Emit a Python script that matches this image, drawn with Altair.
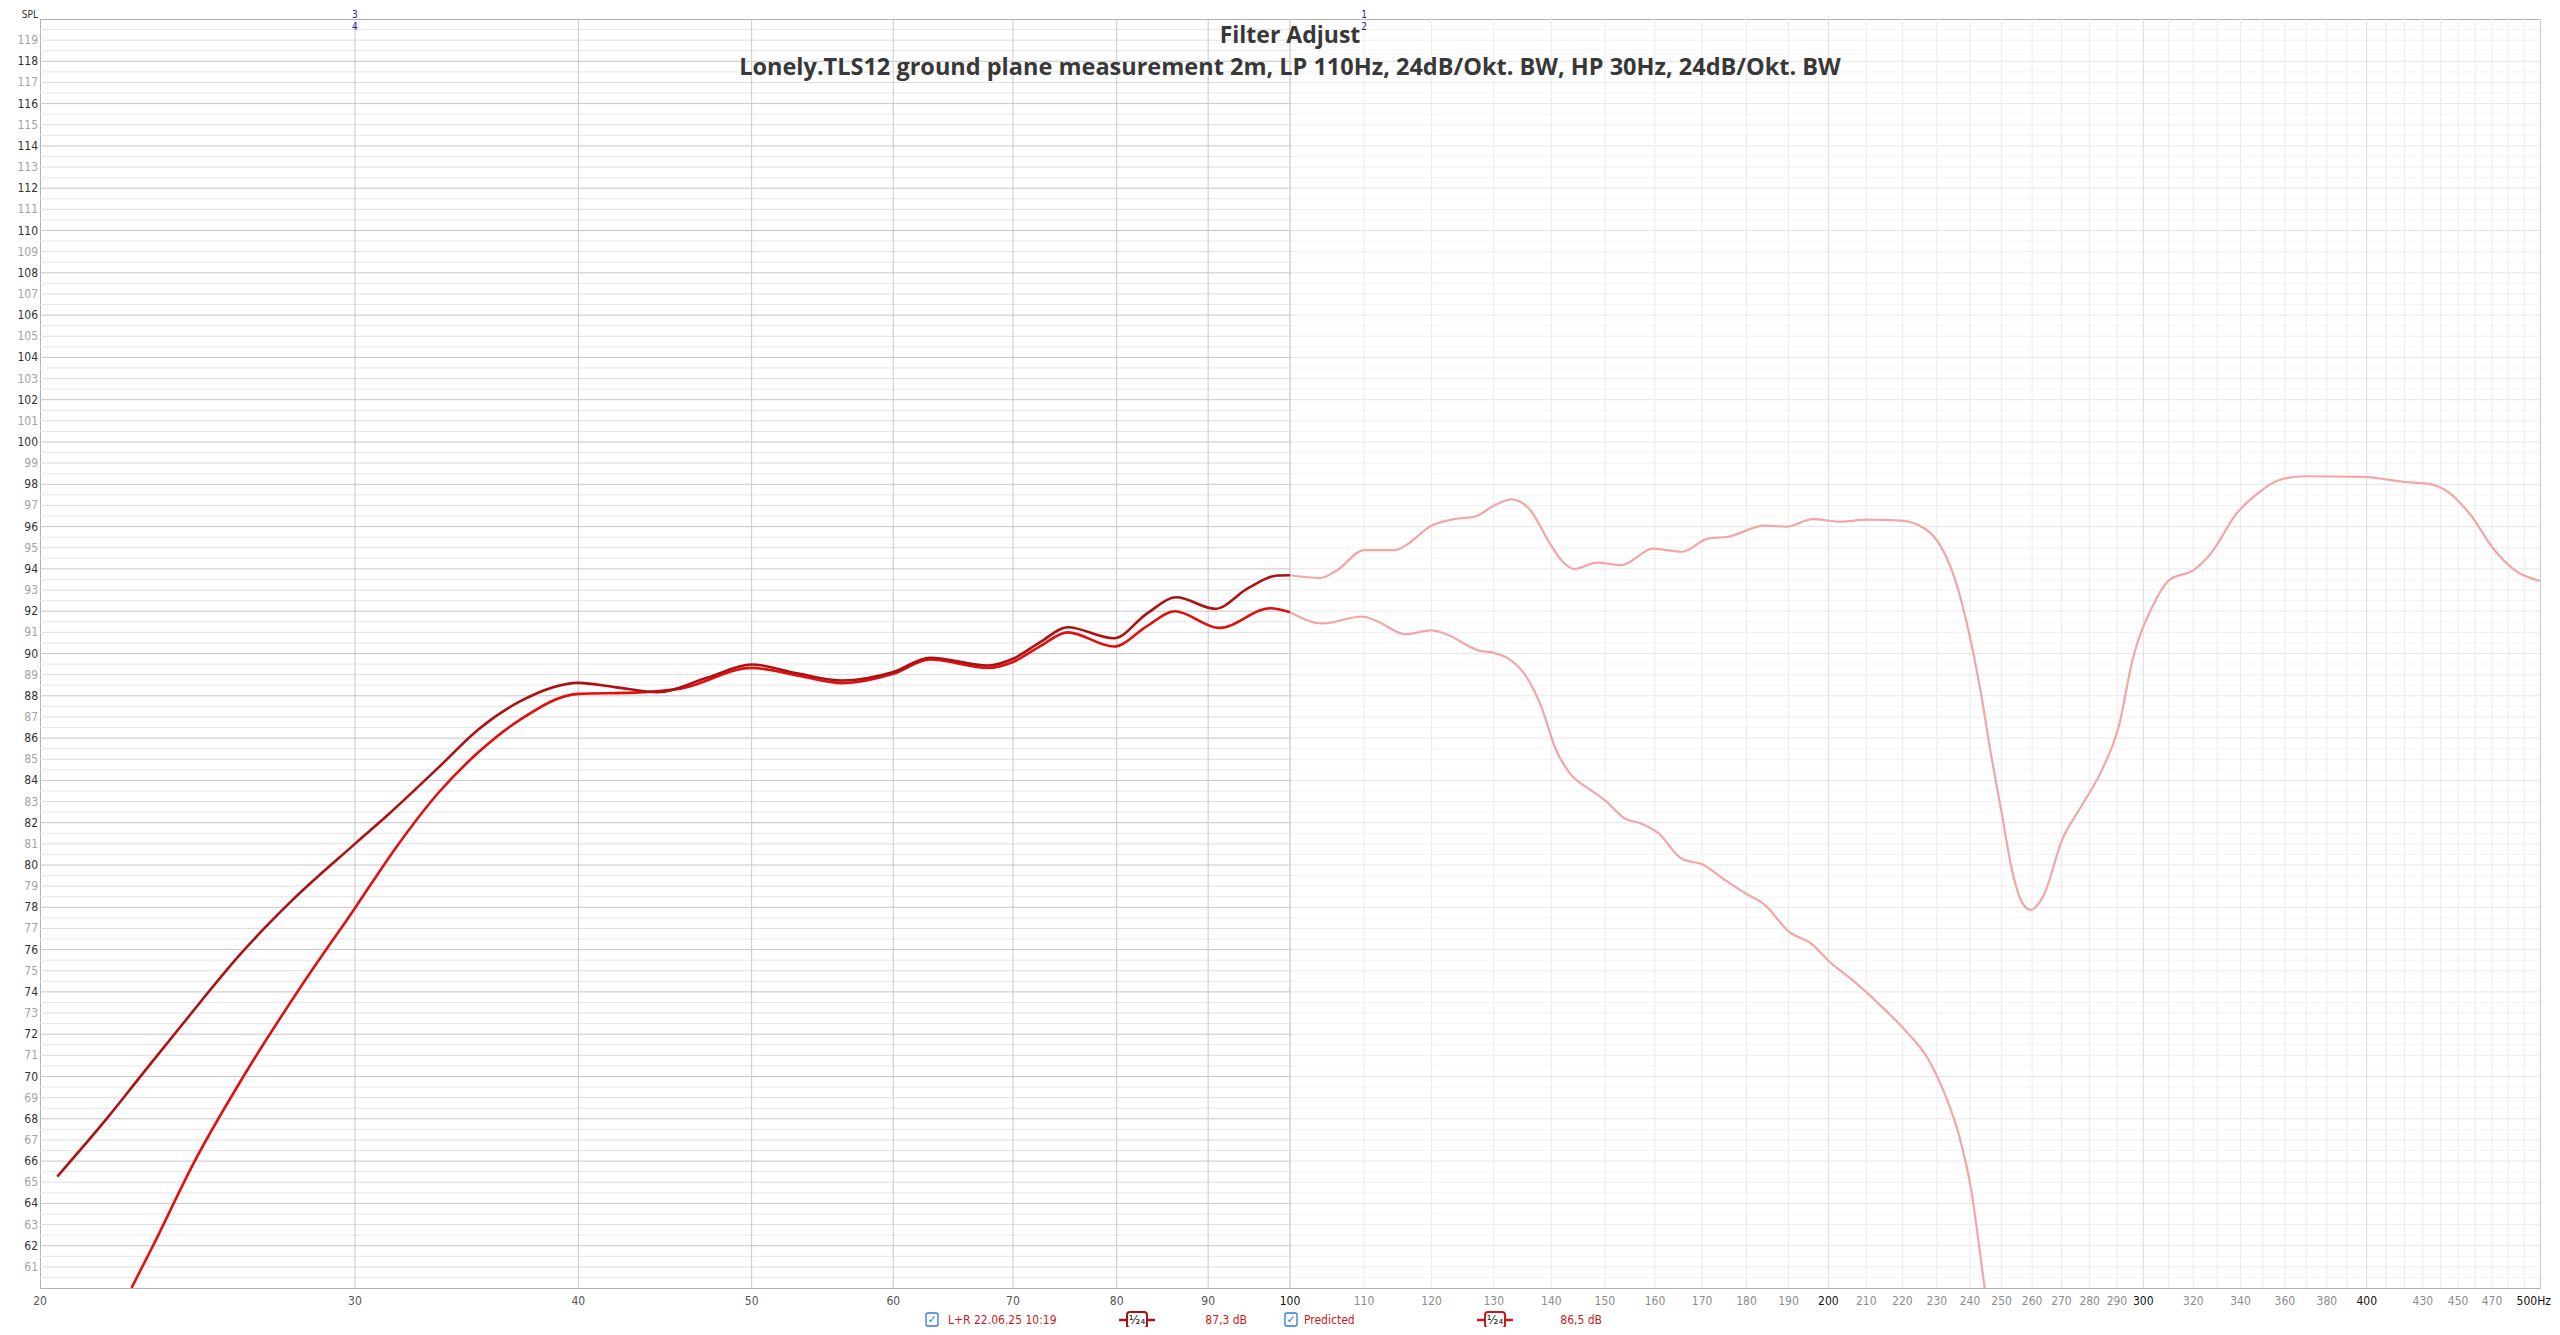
import altair as alt
import pandas as pd

# --- data read off the REW "Filter Adjust" screenshot ---
# L+R measurement (dark red below 100 Hz, faded above)
meas_freq = [20.45, 21.84, 22.78, 24.12, 25.96, 27.64, 30.0, 31.34, 33.38, 35.18, 37.08, 40.0,
             42.0, 44.3, 47.2, 50.0, 53.1, 56.2, 60.0, 62.9, 67.8, 70.0, 72.5, 75.1, 79.7,
             83.2, 86.4, 90.8, 94.8, 98.4, 100.0, 104.0, 106.3, 110.0, 114.6, 116.0, 120.0,
             123.5, 127.0, 130.0, 133.0, 136.0, 140.0, 142.1, 144.2, 148.5, 153.2, 159.6,
             165.7, 171.1, 175.8, 184.2, 189.5, 196.0, 203.5, 210.0, 219.5, 226.5, 231.0,
             235.5, 239.5, 243.4, 246.7, 250.0, 253.3, 256.7, 259.5, 263.8, 270.3, 277.0,
             284.5, 290.7, 295.9, 303.6, 310.2, 320.2, 327.3, 338.3, 347.5, 357.1, 369.2,
             398.2, 420.3, 432.5, 442.8, 456.6, 471.5, 482.5, 500.0]
meas_spl = [65.27, 68.1, 70.04, 72.65, 75.9, 78.29, 81.0, 82.41, 84.58, 86.42, 87.72, 88.61,
            88.4, 88.17, 88.85, 89.48, 89.05, 88.72, 89.12, 89.8, 89.43, 89.75, 90.54, 91.24, 90.72,
            91.9, 92.66, 92.11, 93.1, 93.69, 93.7, 93.57, 93.95, 94.89, 94.89, 95.1, 96.05,
            96.35, 96.48, 96.99, 97.29, 96.86, 95.09, 94.33, 94.0, 94.3, 94.18, 94.96,
            94.81, 95.42, 95.52, 96.05, 96.0, 96.35, 96.23, 96.33, 96.28, 95.9, 95.1,
            93.47, 91.12, 88.13, 85.14, 82.47, 79.8, 78.22, 77.88, 78.54, 81.21, 82.78,
            84.51, 86.56, 89.7, 92.22, 93.47, 93.95, 94.73, 96.62, 97.56, 98.19, 98.38,
            98.35, 98.11, 98.03, 97.72, 96.62, 94.89, 94.03, 93.43]

# Predicted response with LP 110 Hz / HP 30 Hz
pred_freq = [22.5, 23.14, 24.38, 26.1, 27.94, 30.0, 31.67, 33.38, 35.18, 37.08, 40.0, 43.0,
             45.7, 50.0, 53.1, 56.2, 60.0, 62.9, 67.8, 70.0, 72.5, 75.1, 79.7, 83.2, 86.2,
             91.3, 97.5, 100.0, 104.3, 109.7, 111.8, 116.0, 120.0, 122.3, 127.4, 130.0,
             132.7, 135.6, 138.2, 140.8, 143.4, 147.1, 150.0, 153.7, 157.6, 160.5, 165.7,
             170.0, 175.2, 180.0, 184.2, 190.0, 196.0, 200.0, 206.2, 212.6, 220.8, 227.6,
             232.1, 236.6, 240.3, 244.6, 246.5]
pred_spl = [60.0, 62.02, 65.92, 70.26, 74.16, 77.96, 80.89, 83.38, 85.34, 86.85, 88.09, 88.15,
            88.35, 89.32, 88.95, 88.6, 89.04, 89.72, 89.32, 89.6, 90.35, 91.0, 90.33, 91.3, 92.0,
            91.21, 92.14, 91.95, 91.42, 91.75, 91.54, 90.91, 91.09, 90.91, 90.15, 90.03,
            89.72, 88.89, 87.49, 85.47, 84.33, 83.57, 83.06, 82.23, 81.92, 81.54, 80.28,
            80.03, 79.27, 78.63, 78.13, 76.86, 76.23, 75.47, 74.58, 73.57, 72.18, 70.78,
            69.27, 67.24, 64.71, 60.0, 58.0]

x_ticks = [20, 30, 40, 50, 60, 70, 80, 90, 100, 110, 120, 130, 140, 150, 160, 170, 180, 190,
           200, 210, 220, 230, 240, 250, 260, 270, 280, 290, 300, 320, 340, 360, 380, 400,
           430, 450, 470, 500]
y_ticks = list(range(61, 120))
vgrid_in = [30, 40, 50, 60, 70, 80, 90]
vgrid_out = list(range(110, 501, 10))

marker_freq = [110, 30]
marker_top = ["1", "3"]
marker_low = ["2", "4"]

title_text = "Filter Adjust"
subtitle_text = "Lonely.TLS12 ground plane measurement 2m, LP 110Hz, 24dB/Okt. BW, HP 30Hz, 24dB/Okt. BW"
legend_names = ["L+R 22.06.25 10:19", "Predicted"]
legend_levels = ["87,3 dB", "86,5 dB"]

NARROW = "Liberation Sans Narrow, DejaVu Sans Condensed, Liberation Sans, sans-serif"
W, H = 2500, 1269

# --- frames ---
meas = pd.DataFrame({"freq": meas_freq, "spl": meas_spl, "series": legend_names[0]})
pred = pd.DataFrame({"freq": pred_freq, "spl": pred_spl, "series": legend_names[1]})

rows = []
for region, lo, hi in [("in", 20, 100), ("out", 100, 500)]:
    for i in range(1, 120):
        v = 60 + i * 0.5
        kind = "half" if i % 2 else ("even" if int(v) % 2 == 0 else "odd")
        rows.append({"f0": lo, "f1": hi, "s0": v, "s1": v, "style": region + "_" + kind})
for f in vgrid_in:
    rows.append({"f0": f, "f1": f, "s0": 60, "s1": 120, "style": "v_in"})
for f in vgrid_out:
    st = "v_major" if f in (200, 300, 400) else "v_out"
    rows.append({"f0": f, "f1": f, "s0": 60, "s1": 120, "style": st})
rows.append({"f0": 100, "f1": 100, "s0": 60, "s1": 120, "style": "v_100"})
grid = pd.DataFrame(rows)

styles = ["in_even", "in_odd", "in_half", "out_even", "out_odd", "out_half",
          "v_in", "v_out", "v_major", "v_100"]
style_colors = ["#c6c6c6", "#dedede", "#e6e6e6", "#e6e6e6", "#efefef", "#f4f4f4",
                "#cacaca", "#ececec", "#dcdcdc", "#bdbdbd"]

xs = alt.Scale(type="log", domain=[20, 500], nice=False)
ys = alt.Scale(domain=[60, 120], nice=False, zero=False)
X = lambda f: alt.X(f, scale=xs, axis=None)
Y = lambda f: alt.Y(f, scale=ys, axis=None)

grid_layer = alt.Chart(grid).mark_rule(strokeWidth=1).encode(
    x=X("f0:Q"), x2="f1:Q", y=Y("s0:Q"), y2="s1:Q",
    color=alt.Color("style:N", scale=alt.Scale(domain=styles, range=style_colors), legend=None),
)

# response curves: strong inside 20-100 Hz, faded outside
line_kw = dict(interpolate="monotone", clip=True)
faded = [
    alt.Chart(df[df.freq >= 100]).mark_line(color="#f2a6a6", strokeWidth=2.2, **line_kw).encode(
        x=X("freq:Q"), y=Y("spl:Q"))
    for df in (meas, pred)
]
pred_line = alt.Chart(pred[pred.freq <= 100]).mark_line(
    color="#e01010", strokeWidth=2.6, **line_kw).encode(x=X("freq:Q"), y=Y("spl:Q"))
meas_line = alt.Chart(meas[meas.freq <= 100]).mark_line(
    color="#ad1212", strokeWidth=2.6, **line_kw).encode(x=X("freq:Q"), y=Y("spl:Q"))

# tick labels, drawn through the same scales
xlab = pd.DataFrame({"freq": x_ticks,
                     "label": [f"{t}Hz" if t == 500 else str(t) for t in x_ticks]})
xlab["tone"] = ["#111111" if (t >= 100 and t % 100 == 0) else ("#555555" if t < 100 else "#8c8c8c")
                for t in x_ticks]
inner = xlab[xlab.freq < 500]
x_labels = [
    alt.Chart(inner[inner.tone == c]).mark_text(font=NARROW, fontSize=12, color=c).encode(
        x=X("freq:Q"), y=alt.value(H + 13), text="label:N")
    for c in ("#111111", "#555555", "#8c8c8c")
]
# last label sits flush against the right edge
x_labels.append(
    alt.Chart(xlab[xlab.freq == 500]).mark_text(
        font=NARROW, fontSize=12, color="#111111", align="right", dx=11).encode(
        x=X("freq:Q"), y=alt.value(H + 13), text="label:N"))

ylab = pd.DataFrame({"spl": y_ticks, "label": [str(v) for v in y_ticks]})
y_labels = [
    alt.Chart(ylab[ylab.spl % 2 == r]).mark_text(
        font=NARROW, fontSize=12, color=c, align="right").encode(
        x=alt.value(-2), y=Y("spl:Q"), text="label:N")
    for r, c in ((0, "#333333"), (1, "#a3a3a3"))
]

heads = pd.DataFrame({"t": [title_text], "s": [subtitle_text], "u": ["SPL"]})
spl_mark = alt.Chart(heads).mark_text(
    font=NARROW, fontSize=10, color="#333333", align="right", baseline="alphabetic"
).encode(x=alt.value(-2), y=alt.value(-1.5), text="u:N")

markers = pd.DataFrame({"freq": marker_freq, "top": marker_top, "low": marker_low})
mk_top = alt.Chart(markers).mark_text(
    fontSize=10, color="#1c1ca8", font=NARROW, baseline="alphabetic").encode(
    x=X("freq:Q"), y=alt.value(-1.5), text="top:N")
mk_low = alt.Chart(markers).mark_text(
    fontSize=10, color="#1c1ca8", font=NARROW, baseline="alphabetic").encode(
    x=X("freq:Q"), y=alt.value(10.5), text="low:N")

title_mark = alt.Chart(heads).mark_text(
    font="Open Sans", fontSize=23, fontWeight="bold", color="#383838", baseline="alphabetic"
).encode(x=alt.value(W / 2), y=alt.value(23.5), text="t:N")
subtitle_mark = alt.Chart(heads).mark_text(
    font="Open Sans", fontSize=23.5, fontWeight="bold", color="#383838", baseline="alphabetic"
).encode(x=alt.value(W / 2), y=alt.value(56), text="s:N")

# --- bottom legend strip ---
LY = 1301
leg = pd.DataFrame({"name": legend_names, "level": legend_levels})
legend_layers = []
for i, (cb, tx, sym, lv, col) in enumerate([(892, 908, 1097, 1207, "#a31515"),
                                            (1251, 1264, 1455, 1562, "#d01818")]):
    row = leg.iloc[[i]]
    legend_layers += [
        alt.Chart(row).mark_rect(fill="white", stroke="#2a7bd6", strokeWidth=1.3, cornerRadius=2).encode(
            x=alt.value(cb - 6), x2=alt.value(cb + 6), y=alt.value(LY - 7), y2=alt.value(LY + 6)),
        alt.Chart(row).mark_text(text="\u2713", font="DejaVu Sans", fontSize=11, color="#2a7bd6").encode(
            x=alt.value(cb), y=alt.value(LY)),
        alt.Chart(row).mark_text(align="left", font=NARROW, fontSize=12, color="#cc1a1a").encode(
            x=alt.value(tx), y=alt.value(LY), text="name:N"),
        alt.Chart(row).mark_rule(color=col, strokeWidth=2.5).encode(
            x=alt.value(sym - 18), x2=alt.value(sym + 18), y=alt.value(LY)),
        alt.Chart(row).mark_rect(fill="white", stroke=col, strokeWidth=2, cornerRadius=3).encode(
            x=alt.value(sym - 10), x2=alt.value(sym + 10), y=alt.value(LY - 8), y2=alt.value(LY + 8)),
        alt.Chart(row).mark_text(text="\u00b9\u2044\u2082\u2084", font="DejaVu Sans", fontSize=12,
                                 color="#222222").encode(x=alt.value(sym), y=alt.value(LY)),
        alt.Chart(row).mark_text(align="right", font=NARROW, fontSize=12, color="#cc1a1a").encode(
            x=alt.value(lv), y=alt.value(LY), text="level:N"),
    ]

chart = alt.layer(
    grid_layer, *faded, pred_line, meas_line, *x_labels, *y_labels, spl_mark,
    mk_top, mk_low, title_mark, subtitle_mark, *legend_layers,
).properties(
    width=W, height=H,
    padding={"left": 32, "top": 11, "right": 12, "bottom": 39},
    autosize=alt.AutoSizeParams(type="none"),
    background="white",
).configure_view(stroke="#b3b3b3", strokeWidth=1)

chart.save("out.html", embed_options={"renderer": "svg", "actions": False})
